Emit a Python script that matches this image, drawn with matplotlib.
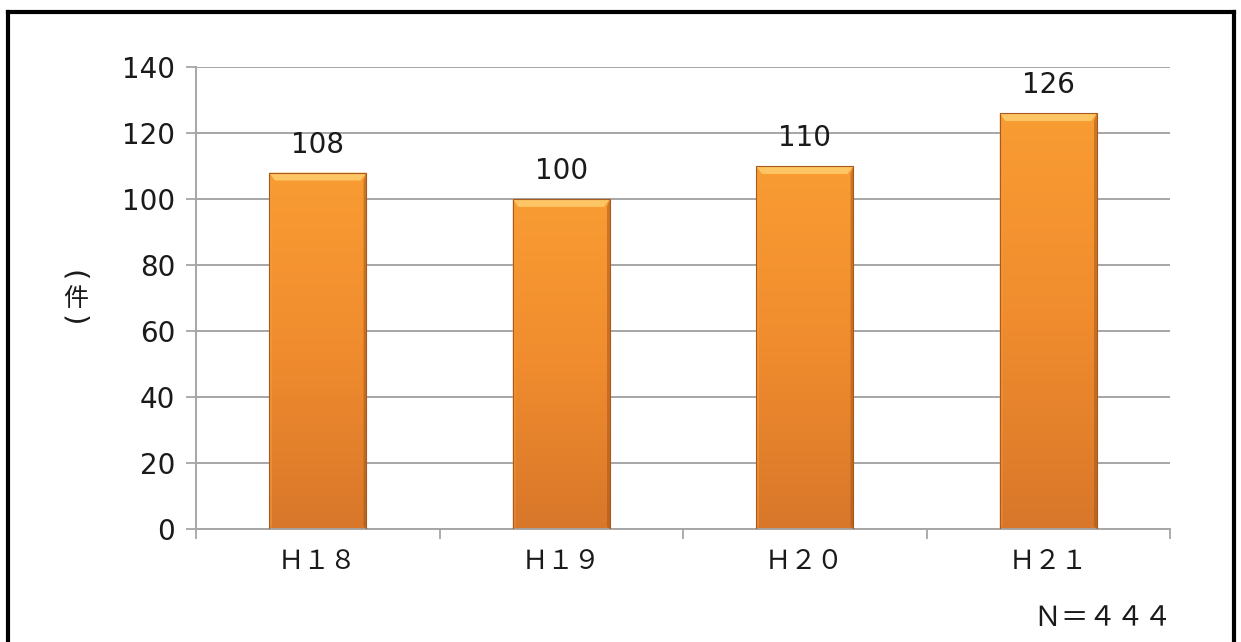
import numpy as np
import matplotlib
matplotlib.use("Agg")
import matplotlib.pyplot as plt
from matplotlib.patches import Polygon
from matplotlib.lines import Line2D
from matplotlib.colors import LinearSegmentedColormap

plt.rcParams['font.family'] = ['Noto Sans CJK JP', 'DejaVu Sans']

# Data
categories = ["Ｈ１８", "Ｈ１９", "Ｈ２０", "Ｈ２１"]
counts = [108, 100, 110, 126]
y_ticks = [0, 20, 40, 60, 80, 100, 120, 140]
total_label = "Ｎ＝４４４"

NUM_FONT = "DejaVu Sans"
TEXT = "#1a1a1a"

W, H = 1241, 642
fig = plt.figure(figsize=(W / 100, H / 100), dpi=100)
ax = fig.add_axes([196 / W, 1 - 529 / H, (1170 - 196) / W, (529 - 67) / H])

x = np.arange(len(categories))
bars = ax.bar(x, counts, width=0.40, color="none", edgecolor="#A85A1C",
              linewidth=0.8, zorder=3)

# Vertical orange gradient inside each bar, plus a lighter bevel on top
cmap = LinearSegmentedColormap.from_list("bar", ["#D8772A", "#F08C2E", "#F99C33"])
grad = np.linspace(0, 1, 256).reshape(-1, 1)
for b in bars:
    x0, w, h = b.get_x(), b.get_width(), b.get_height()
    im = ax.imshow(grad, cmap=cmap, aspect="auto", origin="lower",
                   extent=(x0, x0 + w, 0, h), zorder=2.5)
    im.set_clip_path(b)
    dx, dy = w * 0.06, 2.4
    top = Polygon([(x0, h), (x0 + w, h), (x0 + w - dx, h - dy), (x0 + dx, h - dy)],
                  closed=True, facecolor="#FDC564", edgecolor="none", zorder=2.7)
    ax.add_patch(top)
    left = Polygon([(x0, h), (x0 + dx * 0.5, h - dy), (x0 + dx * 0.5, dy * 0.3), (x0, 0)],
                   closed=True, facecolor="#F4A040", edgecolor="none", alpha=0.5, zorder=2.7)
    right = Polygon([(x0 + w, h), (x0 + w - dx * 0.5, h - dy), (x0 + w - dx * 0.5, dy * 0.3), (x0 + w, 0)],
                    closed=True, facecolor="#9E5318", edgecolor="none", alpha=0.5, zorder=2.7)
    ax.add_patch(left)
    ax.add_patch(right)
    ax.annotate(str(int(h)), (x0 + w / 2, h), xytext=(0, 10),
                textcoords="offset points", ha="center", va="bottom",
                fontsize=20, color=TEXT, family=NUM_FONT)

ax.set_xlim(-0.5, len(categories) - 0.5)
ax.set_ylim(0, 140)
ax.set_yticks(y_ticks)
ax.set_yticklabels([str(v) for v in y_ticks], fontsize=20, color=TEXT, family=NUM_FONT)
ax.yaxis.grid(True, color="#A6A6A6", linewidth=1.4, zorder=0)
ax.set_axisbelow(True)

# Category labels centred under bars, ticks at category boundaries
ax.set_xticks(np.arange(len(categories) + 1) - 0.5)
ax.set_xticklabels([])
ax.set_xticks(x, minor=True)
ax.set_xticklabels(categories, minor=True, fontsize=19, color=TEXT)
ax.tick_params(axis="x", which="minor", length=0, pad=14)
ax.tick_params(axis="x", which="major", length=7, width=1.3, color="#A6A6A6", direction="out")
ax.tick_params(axis="y", length=7, width=1.3, color="#A6A6A6", direction="out", pad=8)

for s in ["top", "right"]:
    ax.spines[s].set_visible(False)
for s in ["left", "bottom"]:
    ax.spines[s].set_color("#A6A6A6")
    ax.spines[s].set_linewidth(1.4)

# Vertical unit label, written top to bottom: turned parentheses around an upright 件
fig.text(73 / W, 1 - 276 / H, "(", rotation=-90, ha="center", va="center",
         fontsize=21, color=TEXT, family=NUM_FONT)
fig.text(76 / W, 1 - 299 / H, "件", ha="center", va="center", fontsize=18, color=TEXT)
fig.text(73 / W, 1 - 321 / H, ")", rotation=-90, ha="center", va="center",
         fontsize=21, color=TEXT, family=NUM_FONT)

fig.text(1172 / W, 1 - 618 / H, total_label, ha="right", va="center", fontsize=20, color=TEXT)

# Outer frame
lw = 3.0
fig.add_artist(Line2D([8 / W, 8 / W], [-0.05, 1 - 11.5 / H], color="black", linewidth=lw,
                      transform=fig.transFigure, solid_capstyle="projecting"))
fig.add_artist(Line2D([8 / W, 1234 / W], [1 - 11.5 / H, 1 - 11.5 / H], color="black", linewidth=lw,
                      transform=fig.transFigure, solid_capstyle="projecting"))
fig.add_artist(Line2D([1234 / W, 1234 / W], [-0.05, 1 - 11.5 / H], color="black", linewidth=lw,
                      transform=fig.transFigure, solid_capstyle="projecting"))

fig.savefig("out.png", dpi=100, facecolor="white")
